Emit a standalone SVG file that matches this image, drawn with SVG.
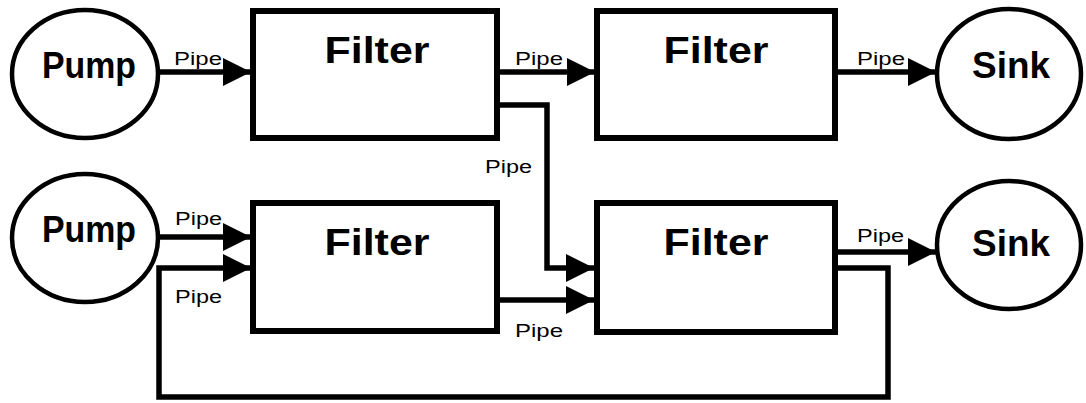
<svg xmlns="http://www.w3.org/2000/svg" width="1086" height="403" viewBox="0 0 1086 403">
<defs>
<style>
.node{fill:#fff;stroke:#000;stroke-width:4.5}
.box{fill:#fff;stroke:#000;stroke-width:6}
.title{font-family:"Liberation Sans",Arial,sans-serif;font-weight:bold;font-size:37px;fill:#000;text-anchor:middle}
.lbl{font-family:"Liberation Sans",Arial,sans-serif;font-size:18px;fill:#000}
.pipe{fill:none;stroke:#000;stroke-width:5.5;stroke-linejoin:miter}
</style>
<marker id="ah" viewBox="0 0 10 10" refX="10" refY="5" markerUnits="userSpaceOnUse" markerWidth="28" markerHeight="28" orient="auto">
<path d="M0,0 L10,5 L0,10 Z" fill="#000"/>
</marker>
</defs>
<rect width="1086" height="403" fill="#fff"/>
<g id="pump1"><ellipse class="node" cx="85" cy="74" rx="73" ry="64"/><text class="title" x="89" y="78" textLength="94" lengthAdjust="spacingAndGlyphs">Pump</text></g>
<g id="filter1"><rect class="box" x="253" y="11" width="244" height="127"/><text class="title" x="377" y="63" textLength="105" lengthAdjust="spacingAndGlyphs">Filter</text></g>
<g id="filter2"><rect class="box" x="597" y="11" width="238" height="127"/><text class="title" x="716" y="63" textLength="105" lengthAdjust="spacingAndGlyphs">Filter</text></g>
<g id="sink1"><ellipse class="node" cx="1009" cy="74" rx="72" ry="65"/><text class="title" x="1011" y="78" textLength="78" lengthAdjust="spacingAndGlyphs">Sink</text></g>
<g id="pump2"><ellipse class="node" cx="85" cy="238" rx="73" ry="64"/><text class="title" x="89" y="242" textLength="94" lengthAdjust="spacingAndGlyphs">Pump</text></g>
<g id="filter3"><rect class="box" x="253" y="203" width="244" height="128"/><text class="title" x="377" y="255" textLength="105" lengthAdjust="spacingAndGlyphs">Filter</text></g>
<g id="filter4"><rect class="box" x="597" y="203" width="238" height="129"/><text class="title" x="716" y="255" textLength="105" lengthAdjust="spacingAndGlyphs">Filter</text></g>
<g id="sink2"><ellipse class="node" cx="1009" cy="245" rx="72" ry="64"/><text class="title" x="1011" y="256" textLength="78" lengthAdjust="spacingAndGlyphs">Sink</text></g>
<g id="connectors">
<path class="pipe" d="M158,72 H251" marker-end="url(#ah)"/>
<path class="pipe" d="M500,72 H595" marker-end="url(#ah)"/>
<path class="pipe" d="M838,72 H936" marker-end="url(#ah)"/>
<path class="pipe" d="M500,105 H547 V268 H594" marker-end="url(#ah)"/>
<path class="pipe" d="M158,237 H251" marker-end="url(#ah)"/>
<path class="pipe" d="M838,268 H888 V397 H159 V268 H251" marker-end="url(#ah)"/>
<path class="pipe" d="M500,300 H594" marker-end="url(#ah)"/>
<path class="pipe" d="M838,252 H936" marker-end="url(#ah)"/>
<text class="lbl" x="174" y="65" textLength="48" lengthAdjust="spacingAndGlyphs">Pipe</text>
<text class="lbl" x="515" y="65" textLength="48" lengthAdjust="spacingAndGlyphs">Pipe</text>
<text class="lbl" x="857" y="65" textLength="48" lengthAdjust="spacingAndGlyphs">Pipe</text>
<text class="lbl" x="485" y="173" textLength="47" lengthAdjust="spacingAndGlyphs">Pipe</text>
<text class="lbl" x="175" y="225" textLength="47" lengthAdjust="spacingAndGlyphs">Pipe</text>
<text class="lbl" x="175" y="303" textLength="47" lengthAdjust="spacingAndGlyphs">Pipe</text>
<text class="lbl" x="515" y="337" textLength="48" lengthAdjust="spacingAndGlyphs">Pipe</text>
<text class="lbl" x="857" y="242" textLength="47" lengthAdjust="spacingAndGlyphs">Pipe</text>
</g>
</svg>
